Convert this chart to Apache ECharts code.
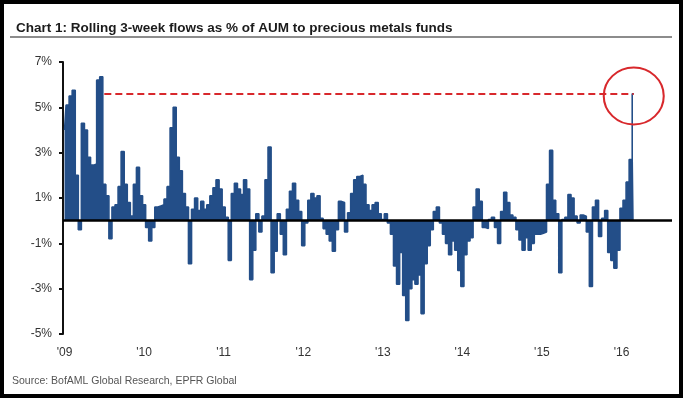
<!DOCTYPE html>
<html>
<head>
<meta charset="utf-8">
<script src="https://cdn.jsdelivr.net/npm/echarts@6.0.0/dist/echarts.min.js"></script>
<style>
  html, body { margin: 0; padding: 0; background: #fff; }
  #chart { width: 683px; height: 398px; }
</style>
</head>
<body>
<div id="chart"></div>
<script>
// rolling 3-week flows, % of AUM at two-week steps
const flows2009 = [4.0, 5.1, 5.5, 5.75, 2.0, -0.4, 4.3, 4.0, 2.8, 2.45, 2.5, 6.2, 6.35, 1.6, 1.1, -0.8, 0.6, 0.7, 1.5, 3.05, 1.6, 0.8, 0.2, 1.6, 2.35, 1.1];
const flows2010 = [0.7, -0.3, -0.9, -0.3, 0.6, 0.65, 0.7, 0.95, 1.5, 4.1, 5.0, 2.8, 2.2, 1.2, 0.6, -1.9, 0.5, 1.0, 0.45, 0.85, 0.5, 0.7, 1.1, 1.45, 1.8, 1.4];
const flows2011 = [0.6, 0.15, -1.75, 1.2, 1.65, 1.4, 1.15, 1.8, 1.4, -2.6, -1.3, 0.3, -0.5, 0.2, 1.8, 3.25, -2.3, -1.35, 0.3, -0.6, -1.5, 0.5, 1.3, 1.65, 0.9, 0.4];
const flows2012 = [-1.1, -0.1, 0.9, 1.2, 1.0, 1.1, 0.1, -0.35, -0.6, -0.9, -1.35, -0.4, 0.85, 0.8, -0.5, 0.35, 1.2, 1.8, 1.95, 2.0, 1.6, 0.7, 0.45, 0.7, 0.8, 0.3];
const flows2013 = [0.05, 0.3, -0.1, -0.6, -2.0, -2.8, -1.4, -3.3, -4.4, -3.0, -2.6, -2.8, -2.4, -4.1, -1.9, -1.1, -0.4, 0.4, 0.6, -0.1, -0.6, -1.0, -1.5, -0.9, -1.3, -2.2];
const flows2014 = [-2.9, -1.5, -0.9, -0.75, 0.6, 1.4, 0.85, -0.3, -0.35, 0.05, 0.15, -0.3, -1.0, 0.4, 1.25, 0.8, 0.25, 0.15, -0.4, -0.85, -1.3, -0.75, -1.3, -1.0, -0.6, -0.6];
const flows2015 = [-0.55, -0.5, 1.6, 3.1, 0.9, 0.3, -2.3, 0.05, 0.15, 1.15, 1.0, 0.2, -0.1, 0.25, 0.2, -0.5, -2.9, 0.6, 0.9, -0.7, 0.1, 0.45, -1.4, -1.75, -2.1, -1.3];
const flows2016 = [0.55, 0.9, 1.7, 2.7, 5.6];

const years = [2009, 2010, 2011, 2012, 2013, 2014, 2015, 2016];
const yearLabels = ["'09", "'10", "'11", "'12", "'13", "'14", "'15", "'16"];
const highlightLevel = 5.6;

const binsPerYear = 26;
const bins2016 = 17; // axis runs on past the last reading

const flows = [].concat(flows2009, flows2010, flows2011, flows2012, flows2013, flows2014, flows2015, flows2016);

const categories = [];
years.forEach(function (y) {
  const n = y === 2016 ? bins2016 : binsPerYear;
  for (let i = 0; i < n; i++) {
    categories.push(y + '-' + String(i + 1).padStart(2, '0'));
  }
});

const lastCat = categories[flows.length - 1];
const navy = '#234e88';
const red = '#d8282c';
const sans = '"Liberation Sans", Arial, sans-serif';

const chart = echarts.init(document.getElementById('chart'));

// dense weekly-style bars drawn as a stepped fill so neighbouring bars don't leave seams
chart.setOption({
  animation: false,
  backgroundColor: '#fff',
  title: {
    text: 'Chart 1: Rolling 3-week flows as % of AUM to precious metals funds',
    left: 11,
    top: 16,
    textStyle: { fontFamily: sans, fontWeight: 'bold', fontSize: 13.5, color: '#1b1b1b' }
  },
  graphic: [
    { type: 'line', shape: { x1: 10, y1: 37, x2: 672, y2: 37 }, style: { stroke: '#8c8c8c', lineWidth: 2 } },
    { type: 'text', left: 12, top: 376, style: { text: 'Source: BofAML Global Research, EPFR Global', font: '10.5px ' + sans, fill: '#555' } },
    { type: 'rect', shape: { x: 2, y: 2, width: 679, height: 394 }, style: { fill: 'none', stroke: '#000', lineWidth: 4 }, z: 100 }
  ],
  grid: { left: 63, right: 11, top: 62, bottom: 64 },
  xAxis: {
    type: 'category',
    data: categories,
    axisLine: { show: false },
    axisTick: { show: false },
    axisLabel: {
      interval: function (index) { return index % binsPerYear === 0; },
      formatter: function (value, index) { return yearLabels[index / binsPerYear]; },
      margin: 13,
      fontSize: 12,
      fontFamily: sans,
      color: '#333'
    }
  },
  yAxis: {
    type: 'value',
    min: -5,
    max: 7,
    interval: 2,
    axisLine: { show: true, lineStyle: { color: '#111', width: 2 } },
    axisTick: { show: true, length: 4, lineStyle: { color: '#111', width: 2 } },
    splitLine: { show: false },
    axisLabel: { formatter: '{value}%', margin: 11, fontSize: 12, fontFamily: sans, color: '#333' }
  },
  series: [{
    type: 'line',
    data: flows,
    step: 'middle',
    symbol: 'none',
    lineStyle: { color: navy, width: 1.6 },
    areaStyle: { color: navy, opacity: 1, origin: 0 },
    markLine: {
      silent: true,
      symbol: 'none',
      label: { show: false },
      data: [
        { yAxis: 0, lineStyle: { color: '#000', width: 2.5, type: 'solid' } },
        [
          { coord: [categories[13], highlightLevel], lineStyle: { color: red, width: 2, type: [7, 4] } },
          { coord: [lastCat, highlightLevel] }
        ]
      ]
    },
    markPoint: {
      silent: true,
      symbol: 'circle',
      symbolSize: [60, 57],
      label: { show: false },
      itemStyle: { color: 'rgba(0,0,0,0)', borderColor: red, borderWidth: 2 },
      data: [{ coord: [lastCat, highlightLevel - 0.1] }]
    }
  }]
});
</script>
</body>
</html>
